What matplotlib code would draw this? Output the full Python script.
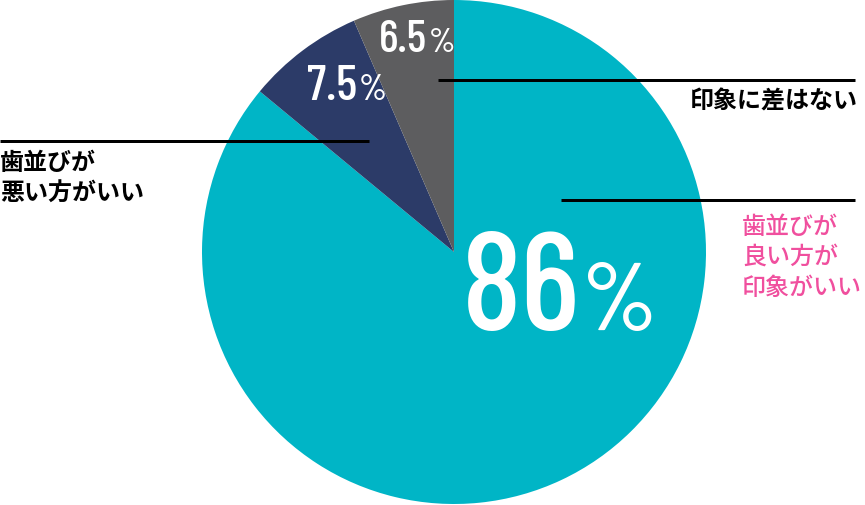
import matplotlib
matplotlib.use("Agg")
import matplotlib.pyplot as plt
from matplotlib import font_manager

# data
labels = ["歯並びが良い方が印象がいい", "歯並びが悪い方がいい", "印象に差はない"]
shares = [86, 7.5, 6.5]
share_text = ["86", "7.5", "6.5"]
colors = ["#00B5C6", "#2C3B68", "#5D5D5F"]

W, H = 865, 505
px = lambda v: v * 0.72  # pixel size -> points at 100 dpi
py = lambda y: H - y     # image row -> data y

installed = {f.name for f in font_manager.fontManager.ttflist}
num_font = next((f for f in ["Barlow Condensed", "Roboto Condensed", "Roboto"] if f in installed), "DejaVu Sans")
jp_font = ["Noto Sans CJK JP", "DejaVu Sans"]

fig = plt.figure(figsize=(W / 100, H / 100), dpi=100)
ax = fig.add_axes([0, 0, 1, 1])

ax.pie(shares, colors=colors, startangle=90, counterclock=False,
       center=(454, py(252)), radius=252,
       wedgeprops=dict(linewidth=0))
ax.set_xlim(0, W)
ax.set_ylim(0, H)
ax.set_aspect("equal")
ax.axis("off")

# percentage labels: (x of number end, baseline row, number size px, pct size px)
num_pos = [(580, 330, 139, 97), (357, 100, 50, 36), (427, 52, 46, 34)]
for t, (x, y, s_num, s_pct) in zip(share_text, num_pos):
    ax.text(x, py(y), t, color="white", fontsize=px(s_num), fontweight="medium",
            family=num_font, ha="right", va="baseline")
    ax.text(x + 2, py(y), "%", color="white", fontsize=px(s_pct), fontweight="medium",
            family=num_font, ha="left", va="baseline")

# leader lines
lw = px(3)
ax.plot([0, 369], [py(141), py(141)], color="black", lw=lw, solid_capstyle="butt")
ax.plot([438, 855], [py(80), py(80)], color="black", lw=lw, solid_capstyle="butt")
ax.plot([561, 855], [py(200), py(200)], color="black", lw=lw, solid_capstyle="butt")

fs = px(24)
ax.text(858, py(102), labels[2], color="black", fontsize=fs, fontweight="bold",
        family=jp_font, ha="right", va="center")
for line, yy in zip(["歯並びが", "悪い方がいい"], [163, 194]):
    ax.text(0, py(yy), line, color="black", fontsize=fs, fontweight="bold",
            family=jp_font, ha="left", va="center")
for line, yy in zip(["歯並びが", "良い方が", "印象がいい"], [227, 257, 288]):
    ax.text(742, py(yy), line, color="#F04F9E", fontsize=fs, fontweight="medium",
            family=jp_font, ha="left", va="center")

fig.savefig("out.png", dpi=100)
